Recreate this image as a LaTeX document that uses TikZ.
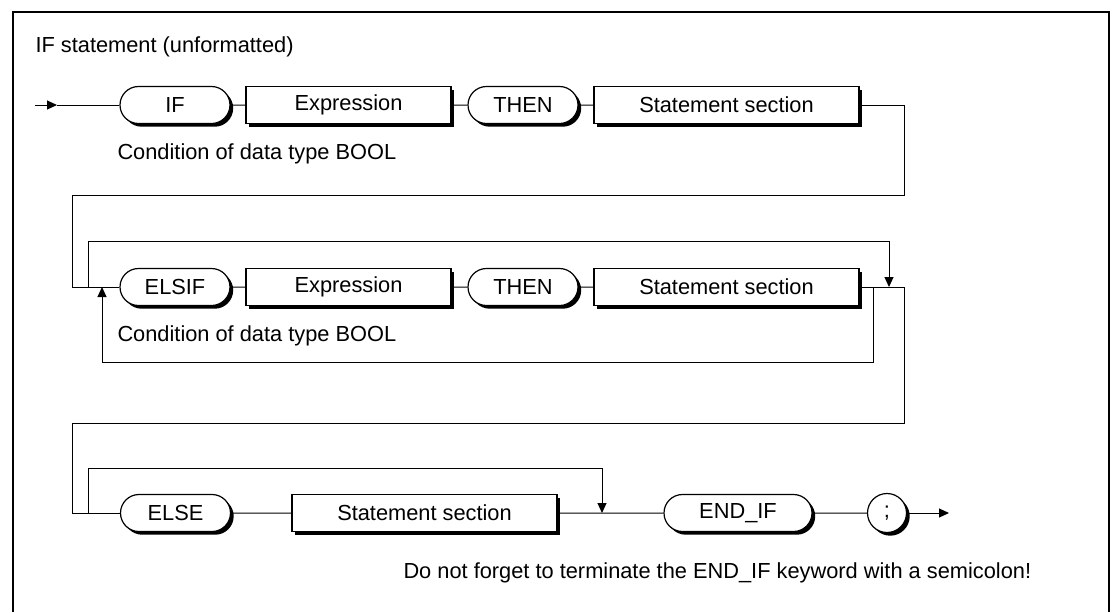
\documentclass[tikz,border=0pt]{standalone}
\usepackage{fontspec}
\setmainfont{Liberation Sans}
\usetikzlibrary{shapes.misc,shadows,arrows.meta}

\begin{document}
\begin{tikzpicture}[x=0.5pt,y=-0.5pt,font=\fontsize{10.9}{13}\selectfont,
  line width=0.5pt,
  sh/.style={fill=white,draw,line width=0.6pt,minimum height=18.5pt,inner sep=1pt,
    drop shadow={shadow xshift=1.6pt,shadow yshift=-1.6pt,fill=black,opacity=1}},
  kw/.style={sh,rounded rectangle,minimum width=#1},
  kw/.default=57pt,
  blk/.style={sh,rectangle,minimum width=#1},
  txt/.style={anchor=west,inner sep=0pt},
  arrowed/.style={-{Triangle[length=5pt,width=4.5pt]}}]
  \useasboundingbox (0,0) rectangle (1114,612);
  \draw[line width=1.1pt] (13,612) -- (13,12) -- (1109,12) -- (1109,612);
  \node[txt] (title) at (35,47) {IF statement (unformatted)};
  \foreach \y/\k/\n in {105/IF/1,287/ELSIF/2}{
    \node[kw] (kw\n) at (175,\y) {\k};
    \node[blk=102.5pt] (expr\n) at (348.5,\y) {Expression};
    \node[kw] (then\n) at (523,\y) {THEN};
    \node[blk=132.5pt] (stmt\n) at (726.5,\y) {Statement section};
    \node[txt] (cond\n) at (117,\y+49) {Condition of data type BOOL};
    \draw (kw\n) -- (expr\n) (expr\n) -- (then\n) (then\n) -- (stmt\n);
  }
  \node[kw] (else) at (175.5,513) {ELSE};
  \node[blk=132.5pt] (stmt3) at (424.5,513) {Statement section};
  \node[kw=76pt] (endif) at (738,513) {END\_IF};
  \node[sh,circle,minimum size=19.5pt] (semi) at (887,513) {;};
  \node[txt] (note) at (403,573) {Do not forget to terminate the END\_IF keyword with a semicolon!};
  \coordinate (in) at (35,105);
  \coordinate (inmid) at (57,105);
  \coordinate (down1) at (904,195);
  \coordinate (back1) at (72,195);
  \coordinate (skip2) at (88,287);
  \coordinate (join2) at (889,287);
  \coordinate (rep2) at (873,287);
  \coordinate (ret2) at (102,287);
  \coordinate (down2) at (904,423);
  \coordinate (back2) at (72,423);
  \coordinate (skip3) at (88,513);
  \coordinate (join3) at (602,513);
  \coordinate (out) at (949,513);
  \draw[arrowed] (in) -- (inmid);
  \draw (inmid) -- (kw1);
  \draw (stmt1) -| (down1) -- (back1) |- (kw2);
  \draw[arrowed] (skip2) -- ++(0,-46) -| (join2);
  \draw[arrowed] (rep2) -- ++(0,75) -| (ret2);
  \draw (stmt2) -| (down2) -- (back2) |- (else);
  \draw[arrowed] (skip3) -- ++(0,-45) -| (join3);
  \draw (else) -- (stmt3) (stmt3) -- (endif) (endif) -- (semi);
  \draw[arrowed] (semi) -- (out);
\end{tikzpicture}
\end{document}
